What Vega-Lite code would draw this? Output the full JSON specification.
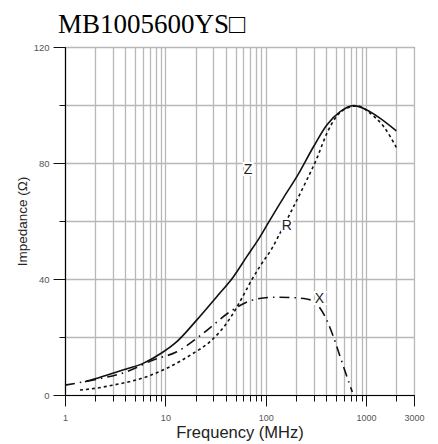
{
  "$schema": "https://vega.github.io/schema/vega-lite/v6.json",
  "width": 349,
  "height": 348,
  "autosize": {"type": "none"},
  "padding": {"left": 65, "top": 47, "right": 24, "bottom": 49},
  "title": {"text": "MB1005600YS□", "font": "Liberation Serif", "fontSize": 27, "fontWeight": "normal", "color": "#000", "anchor": "start", "frame": "group", "dx": -7, "dy": 27, "offset": 9, "baseline": "alphabetic"},
  "datasets": {
    "curves": [
      {"s": "Z", "f": 1.58, "v": 4.6}, {"s": "Z", "f": 2, "v": 5.6}, {"s": "Z", "f": 3, "v": 7.5}, {"s": "Z", "f": 4, "v": 8.9},
      {"s": "Z", "f": 6, "v": 10.9}, {"s": "Z", "f": 9, "v": 14.3}, {"s": "Z", "f": 13, "v": 18.4}, {"s": "Z", "f": 20.6, "v": 25.9},
      {"s": "Z", "f": 32.5, "v": 33.9}, {"s": "Z", "f": 47.7, "v": 40.8}, {"s": "Z", "f": 64.7, "v": 47.7}, {"s": "Z", "f": 88, "v": 54.6},
      {"s": "Z", "f": 110, "v": 60.3}, {"s": "Z", "f": 150, "v": 68}, {"s": "Z", "f": 204, "v": 75.3}, {"s": "Z", "f": 299, "v": 85.6},
      {"s": "Z", "f": 406, "v": 93.1}, {"s": "Z", "f": 552, "v": 97.7}, {"s": "Z", "f": 748, "v": 99.8}, {"s": "Z", "f": 1018, "v": 98.3},
      {"s": "Z", "f": 1383, "v": 95.4}, {"s": "Z", "f": 2000, "v": 91.1},
      {"s": "R", "f": 1.41, "v": 1.7}, {"s": "R", "f": 2, "v": 2.3}, {"s": "R", "f": 3, "v": 3.4}, {"s": "R", "f": 4.5, "v": 4.7},
      {"s": "R", "f": 6.5, "v": 6.3}, {"s": "R", "f": 10.3, "v": 9.2}, {"s": "R", "f": 19, "v": 14.4}, {"s": "R", "f": 27.9, "v": 18.4},
      {"s": "R", "f": 44, "v": 26.4}, {"s": "R", "f": 57.6, "v": 33.3}, {"s": "R", "f": 72.5, "v": 39.7}, {"s": "R", "f": 88, "v": 44.5},
      {"s": "R", "f": 115, "v": 50.5}, {"s": "R", "f": 144, "v": 56.9}, {"s": "R", "f": 175, "v": 62.6}, {"s": "R", "f": 256, "v": 74.1},
      {"s": "R", "f": 323, "v": 81.6}, {"s": "R", "f": 406, "v": 90.2}, {"s": "R", "f": 510, "v": 96.2}, {"s": "R", "f": 646, "v": 98.9},
      {"s": "R", "f": 815, "v": 99.7}, {"s": "R", "f": 1100, "v": 97.1}, {"s": "R", "f": 1500, "v": 92.5}, {"s": "R", "f": 2000, "v": 85.4},
      {"s": "X", "f": 1, "v": 3.4}, {"s": "X", "f": 1.92, "v": 5.2}, {"s": "X", "f": 4.1, "v": 8.0}, {"s": "X", "f": 7.6, "v": 12.1},
      {"s": "X", "f": 13, "v": 14.9}, {"s": "X", "f": 23.9, "v": 21.3}, {"s": "X", "f": 44, "v": 28.7}, {"s": "X", "f": 70, "v": 32.5},
      {"s": "X", "f": 119, "v": 33.7}, {"s": "X", "f": 175, "v": 33.6}, {"s": "X", "f": 256, "v": 33.1}, {"s": "X", "f": 300, "v": 32.2},
      {"s": "X", "f": 348, "v": 29.9}, {"s": "X", "f": 410, "v": 25.5}, {"s": "X", "f": 472, "v": 20.1}, {"s": "X", "f": 595, "v": 9.8},
      {"s": "X", "f": 728, "v": 1.0}
    ],
    "labels": [
      {"t": "Z", "f": 66.8, "v": 77.6},
      {"t": "R", "f": 162, "v": 58.3},
      {"t": "X", "f": 343, "v": 33}
    ]
  },
  "resolve": {"axis": {"x": "independent", "y": "independent"}},
  "layer": [
    {
      "data": {"name": "curves"},
      "transform": [{"filter": "datum.s == 'Z'"}],
      "mark": {"type": "line", "color": "#111", "strokeWidth": 1.6, "interpolate": "monotone"},
      "encoding": {
        "x": {
          "field": "f", "type": "quantitative",
          "scale": {"type": "log", "domain": [1, 3000], "nice": false},
          "axis": {
            "orient": "bottom",
            "values": [1, 2, 3, 4, 5, 6, 7, 8, 9, 10, 20, 30, 40, 50, 60, 70, 80, 90, 100, 200, 300, 400, 500, 600, 700, 800, 900, 1000, 2000, 3000],
            "grid": true, "gridColor": "#b8b8b8", "gridWidth": 1.3,
            "domain": true, "domainColor": "#000", "domainWidth": 1.2,
            "ticks": true, "tickColor": "#111", "tickWidth": 1, "tickSize": 6,
            "labels": false, "title": null
          }
        },
        "y": {
          "field": "v", "type": "quantitative",
          "scale": {"domain": [0, 120], "nice": false},
          "axis": {
            "orient": "left",
            "values": [0, 20, 40, 60, 80, 100, 120],
            "grid": true, "gridColor": "#b8b8b8", "gridWidth": 1.3,
            "domain": true, "domainColor": "#000", "domainWidth": 1.2,
            "ticks": true, "tickColor": "#111", "tickWidth": 1, "tickSize": 6,
            "labels": false, "title": null
          }
        }
      }
    },
    {
      "data": {"name": "curves"},
      "transform": [{"filter": "datum.s == 'R'"}],
      "mark": {"type": "line", "color": "#111", "strokeWidth": 1.6, "strokeDash": [3, 3], "interpolate": "monotone"},
      "encoding": {
        "x": {
          "field": "f", "type": "quantitative",
          "axis": {
            "orient": "bottom",
            "values": [1, 10, 100, 1000, 2999.99],
            "grid": false, "domain": false,
            "ticks": true, "tickColor": "#111", "tickWidth": 1, "tickSize": 11,
            "labelExpr": "format(datum.value, '.0f')",
            "labelFont": "Liberation Sans", "labelFontSize": 9, "labelColor": "#555", "labelPadding": 7,
            "labelOverlap": false, "labelBound": false, "labelFlush": false,
            "title": "Frequency (MHz)", "titleFont": "Liberation Sans", "titleFontSize": 16.5, "titleFontWeight": "normal", "titleColor": "#222", "titlePadding": 2
          }
        },
        "y": {
          "field": "v", "type": "quantitative",
          "axis": {
            "orient": "left",
            "values": [0, 40, 80, 120],
            "grid": false, "domain": false,
            "ticks": true, "tickColor": "#111", "tickWidth": 1, "tickSize": 12,
            "labelFont": "Liberation Sans", "labelFontSize": 9.5, "labelColor": "#555", "labelPadding": 4,
            "labelOverlap": false, "labelBound": false, "labelFlush": false,
            "title": "Impedance (Ω)", "titleFont": "Liberation Sans", "titleFontSize": 13.5, "titleFontWeight": "normal", "titleColor": "#222", "titlePadding": 4
          }
        }
      }
    },
    {
      "data": {"name": "curves"},
      "transform": [{"filter": "datum.s == 'X'"}],
      "mark": {"type": "line", "color": "#111", "strokeWidth": 1.6, "strokeDash": [10, 5, 1.5, 5], "interpolate": "monotone"},
      "encoding": {
        "x": {"field": "f", "type": "quantitative", "axis": null},
        "y": {"field": "v", "type": "quantitative", "axis": null}
      }
    },
    {
      "data": {"name": "labels"},
      "mark": {"type": "text", "font": "Liberation Sans", "fontSize": 14, "color": "#fff", "stroke": "#fff", "strokeWidth": 4, "align": "center", "baseline": "middle"},
      "encoding": {
        "x": {"field": "f", "type": "quantitative", "axis": null},
        "y": {"field": "v", "type": "quantitative", "axis": null},
        "text": {"field": "t"}
      }
    },
    {
      "data": {"name": "labels"},
      "mark": {"type": "text", "font": "Liberation Sans", "fontSize": 14, "color": "#222", "align": "center", "baseline": "middle"},
      "encoding": {
        "x": {"field": "f", "type": "quantitative", "axis": null},
        "y": {"field": "v", "type": "quantitative", "axis": null},
        "text": {"field": "t"}
      }
    }
  ],
  "config": {"view": {"stroke": "#555", "strokeWidth": 1}}
}
